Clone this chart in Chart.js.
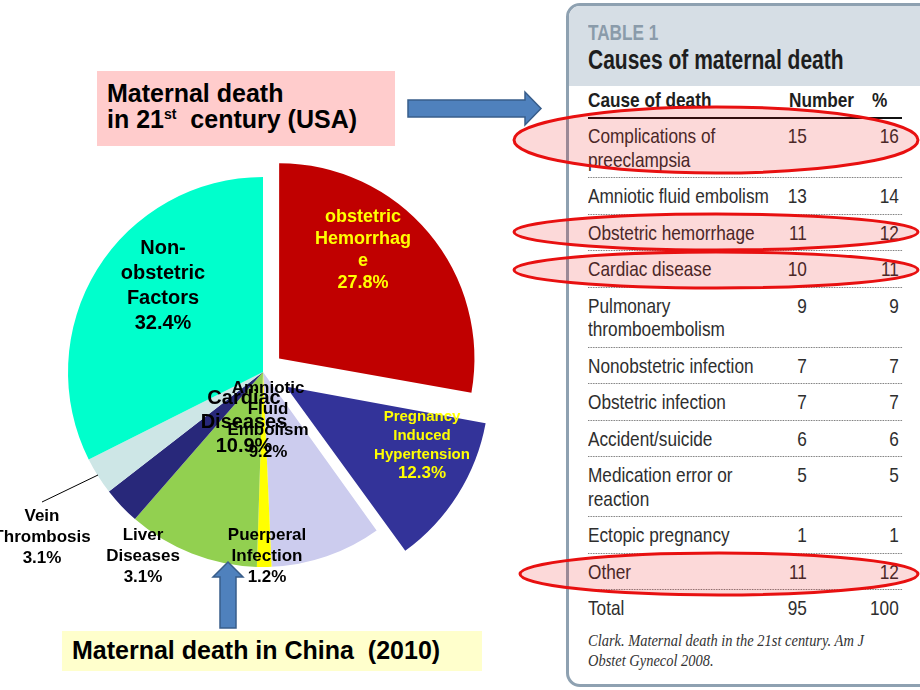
<!DOCTYPE html>
<html>
<head>
<meta charset="utf-8">
<script src="https://cdn.jsdelivr.net/npm/chart.js@4"></script>
<style>
html, body { margin: 0; padding: 0; background: #fff; }
#page { position: relative; width: 920px; height: 690px; overflow: hidden; font-family: "Liberation Sans", Arial, sans-serif; }
.abs { position: absolute; }
.note { font-weight: bold; font-size: 25px; color: #000; white-space: nowrap; }
.note sup { font-size: 14px; vertical-align: 9px; line-height: 0; }
.narrow { transform: scaleX(0.82); transform-origin: 0 0; white-space: nowrap; }
#tbox { left: 566px; top: 3px; width: 380px; height: 678px; border: 3px solid #8ea1b1; border-radius: 14px; overflow: hidden; background: #fff; }
#thead { position: absolute; left: 0; top: 0; right: 0; height: 80px; background: #d6dee5; }
#rows { left: 588px; top: 118px; width: 383px; color: #2e2e2e; font-size: 21px; }
.row { display: flex; padding: 6px 0; line-height: 23.5px; border-bottom: 1px dotted #666; }
.row.last { border-bottom: none; }
.c1 { width: 232px; }
.c2 { width: 35px; text-align: right; }
.c3 { width: 112px; text-align: right; }
#chart { position: absolute; left: 0; top: 0; }
svg { position: absolute; left: 0; top: 0; }
</style>
</head>
<body>
<div id="page">
  <div class="abs" style="left:97px;top:71px;width:298px;height:75px;background:#ffcccc;"></div>
  <div class="abs note" style="left:107px;top:80px;line-height:26px;">Maternal death<br>in 21<sup>st</sup>&nbsp; century (USA)</div>

  <div class="abs" style="left:62px;top:631px;width:420px;height:40px;background:#ffffcc;"></div>
  <div class="abs note" style="left:72px;top:637px;line-height:27px;">Maternal death in China&nbsp; (2010)</div>

  <div id="tbox" class="abs"><div id="thead"></div></div>
  <div class="abs narrow" style="left:588px;top:20px;font-size:22px;font-weight:bold;color:#8a9baa;transform:scaleX(0.78);">TABLE 1</div>
  <div class="abs narrow" style="left:588px;top:44px;font-size:28px;font-weight:bold;color:#1e1e1e;transform:scaleX(0.75);">Causes of maternal death</div>
  <div class="abs narrow" style="left:588px;top:88px;font-size:21px;font-weight:bold;color:#1e1e1e;">Cause of death</div>
  <div class="abs narrow" style="left:789px;top:88px;font-size:21px;font-weight:bold;color:#1e1e1e;">Number</div>
  <div class="abs narrow" style="left:872px;top:88px;font-size:21px;font-weight:bold;color:#1e1e1e;">%</div>
  <div class="abs" style="left:588px;top:117px;width:314px;height:2px;background:#111;"></div>
  <div id="rows" class="abs narrow"></div>
  <div class="abs narrow" style="left:588px;top:631px;font-family:'Liberation Serif',serif;font-style:italic;font-size:17px;line-height:20px;color:#333;transform:scaleX(0.85);">Clark. Maternal death in the 21st century. Am J<br>Obstet Gynecol 2008.</div>

  <canvas id="chart" width="920" height="690"></canvas>

  <svg width="920" height="690">
    <g fill="rgba(235,0,0,0.15)" stroke="#e81010" stroke-width="3">
      <ellipse cx="716" cy="140" rx="202" ry="33"></ellipse>
      <ellipse cx="716" cy="232" rx="202" ry="18"></ellipse>
      <ellipse cx="716" cy="270" rx="202" ry="18"></ellipse>
      <ellipse cx="719" cy="574" rx="199" ry="21"></ellipse>
    </g>
    <g fill="#4f81bd" stroke="#385d8a" stroke-width="1.5">
      <polygon points="408,100 525,100 525,92 541,108.5 525,125 525,117 408,117"></polygon>
      <polygon points="220,628 220,577 213,577 228,562 243,577 236,577 236,628"></polygon>
    </g>
  </svg>
</div>

<script>
// China 2010 pie
var causes = ['obstetric Hemorrhage', 'Pregnancy Induced Hypertension', 'Amniotic Fluid Embolism',
  'Puerperal Infection', 'Cardiac Diseases', 'Liver Diseases', 'Vein Thrombosis', 'Non-obstetric Factors'];
var percents = [27.8, 12.3, 9.2, 1.2, 10.9, 3.1, 3.1, 32.4];
var labelLines = [
  ['obstetric', 'Hemorrhag', 'e'],
  ['Pregnancy', 'Induced', 'Hypertension'],
  ['Amniotic', 'Fluid', 'Embolism'],
  ['Puerperal', 'Infection'],
  ['Cardiac', 'Diseases'],
  ['Liver', 'Diseases'],
  ['Vein', 'Thrombosis'],
  ['Non-', 'obstetric', 'Factors']
];
var sliceColors = ['#c00000', '#333399', '#ccccee', '#ffff00', '#92d050', '#28287a', '#cde6e6', '#00ffcc'];
var sliceOffsets = [84, 108, 0, 0, 0, 0, 0, 0];

// USA table (Clark 2008)
var tableCauses = ['Complications of\npreeclampsia', 'Amniotic fluid embolism', 'Obstetric hemorrhage',
  'Cardiac disease', 'Pulmonary\nthromboembolism', 'Nonobstetric infection', 'Obstetric infection',
  'Accident/suicide', 'Medication error or\nreaction', 'Ectopic pregnancy', 'Other', 'Total'];
var tableNumbers = [15, 13, 11, 10, 9, 7, 7, 6, 5, 1, 11, 95];
var tablePercents = [16, 14, 12, 11, 9, 7, 7, 6, 5, 1, 12, 100];

// label layout: offset from pie centre, font sizes, line height, colour
var labelPos = [[100, -122], [159, 73], [5, 48], [4, 184], [-19, 50], [-120, 184], [-221, 165], [-100, -86]];
var labelFont = [18, 15, 17, 17, 20, 17, 17, 20];
var pctFont = [18, 17, 17, 17, 20, 17, 17, 20];
var labelLh = [22, 19, 21.3, 21, 24, 21, 21, 24.7];
var labelColor = ['#ffff00', '#ffff00', '#000', '#000', '#000', '#000', '#000', '#000'];

var rowsEl = document.getElementById('rows');
tableCauses.forEach(function(c, i) {
  var r = document.createElement('div');
  r.className = 'row' + (i === tableCauses.length - 1 ? ' last' : '');
  r.innerHTML = '<div class="c1">' + c.replace('\n', '<br>') + '</div><div class="c2">' + tableNumbers[i] +
    '</div><div class="c3">' + tablePercents[i] + '</div>';
  rowsEl.appendChild(r);
});

var pieLabels = {
  id: 'pieLabels',
  afterDatasetsDraw: function(chart) {
    var ctx = chart.ctx;
    var meta = chart.getDatasetMeta(0);
    var cx = meta.data[0].x, cy = meta.data[0].y;
    ctx.save();
    // leader line for vein thrombosis
    ctx.strokeStyle = '#000';
    ctx.lineWidth = 1;
    ctx.beginPath();
    ctx.moveTo(cx - 165, cy + 103);
    ctx.lineTo(cx - 221, cy + 130);
    ctx.stroke();

    ctx.textAlign = 'center';
    ctx.textBaseline = 'middle';
    labelLines.forEach(function(lines, i) {
      var all = lines.concat([percents[i].toFixed(1) + '%']);
      var n = all.length;
      ctx.fillStyle = labelColor[i];
      all.forEach(function(t, k) {
        var size = k === n - 1 ? pctFont[i] : labelFont[i];
        ctx.font = 'bold ' + size + 'px "Liberation Sans", Arial, sans-serif';
        var y = cy + labelPos[i][1] + (k - (n - 1) / 2) * labelLh[i];
        ctx.fillText(t, cx + labelPos[i][0], y);
      });
    });
    ctx.restore();
  }
};

new Chart(document.getElementById('chart'), {
  type: 'pie',
  data: {
    labels: causes,
    datasets: [{
      data: percents,
      backgroundColor: sliceColors,
      borderWidth: 0,
      offset: sliceOffsets
    }]
  },
  options: {
    responsive: false,
    devicePixelRatio: 1,
    animation: false,
    events: [],
    radius: 195,
    layout: { padding: { left: 13, right: 407, top: 122, bottom: 68 } },
    plugins: { legend: { display: false }, tooltip: { enabled: false } }
  },
  plugins: [pieLabels]
});
</script>
</body>
</html>
